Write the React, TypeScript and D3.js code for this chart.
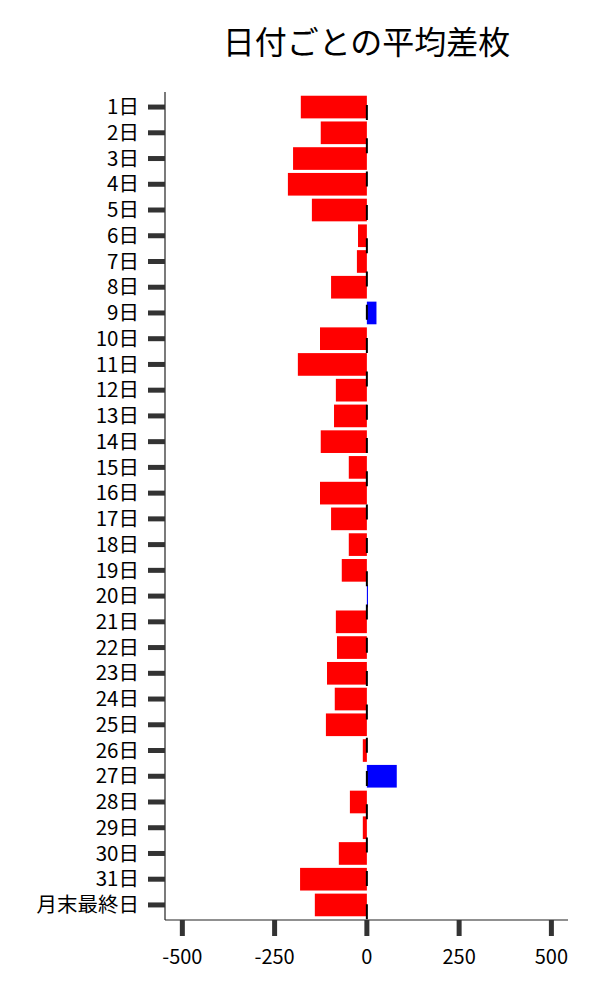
import React from 'react'
import * as d3 from 'd3'

// 日付ごとの平均差枚
const days = [
  '1日', '2日', '3日', '4日', '5日', '6日', '7日', '8日', '9日', '10日',
  '11日', '12日', '13日', '14日', '15日', '16日', '17日', '18日', '19日', '20日',
  '21日', '22日', '23日', '24日', '25日', '26日', '27日', '28日', '29日', '30日',
  '31日', '月末最終日',
]
const avgDiff = [
  -179, -125, -200, -214, -149, -24, -27, -97, 26, -127,
  -187, -84, -89, -125, -49, -127, -97, -49, -68, 3,
  -84, -81, -108, -87, -111, -11, 81, -46, -11, -76,
  -181, -141,
]
const xTicks = [-500, -250, 0, 250, 500]
const title = '日付ごとの平均差枚'

const W = 600
const H = 1000
const margin = { top: 92, right: 32, bottom: 80, left: 165 }
const font = '"Noto Sans CJK JP", "Noto Sans", sans-serif'

export default function App() {
  const x = d3.scaleLinear()
    .domain([-547, 545])
    .range([margin.left, W - margin.right])

  const y = d3.scaleBand<string>()
    .domain(days)
    .range([margin.top, H - margin.bottom])
    .paddingInner(0.12)
    .paddingOuter(0.145)

  const plotBottom = H - margin.bottom
  const half = y.bandwidth() / 2

  return (
    <div style={{ position: 'absolute', left: 0, top: 0 }}>
      <svg width={W} height={H} style={{ display: 'block', background: '#fff' }}>
        <text
          x={(margin.left + W - margin.right) / 2}
          y={54}
          textAnchor="middle"
          fontFamily={font}
          fontSize={32}
          fill="#000"
        >
          {title}
        </text>

        {/* bars */}
        {days.map((d, i) => {
          const v = avgDiff[i]
          return (
            <rect
              key={d}
              x={Math.min(x(0), x(v))}
              y={y(d)}
              width={Math.abs(x(v) - x(0))}
              height={y.bandwidth()}
              fill={v < 0 ? '#ff0000' : '#0000ff'}
            />
          )
        })}

        {/* zero reference line */}
        <line
          x1={x(0)}
          x2={x(0)}
          y1={margin.top}
          y2={plotBottom}
          stroke="#000"
          strokeWidth={2}
          strokeDasharray="15,18.3"
          strokeDashoffset={20.3}
        />

        {/* y axis */}
        <line x1={margin.left} x2={margin.left} y1={margin.top} y2={plotBottom} stroke="#222" strokeWidth={1.2} />
        {days.map(d => (
          <g key={d} transform={`translate(0,${y(d)! + half})`}>
            <line x1={margin.left - 17} x2={margin.left} stroke="#333" strokeWidth={5} />
            <text
              x={margin.left - 26}
              dy="0.35em"
              textAnchor="end"
              fontFamily={font}
              fontSize={20.5}
              fill="#000"
            >
              {d}
            </text>
          </g>
        ))}

        {/* x axis */}
        <line x1={margin.left} x2={W - margin.right} y1={plotBottom} y2={plotBottom} stroke="#222" strokeWidth={1.2} />
        {xTicks.map(t => (
          <g key={t} transform={`translate(${x(t)},0)`}>
            <line y1={plotBottom} y2={plotBottom + 16} stroke="#333" strokeWidth={5} />
            <text
              y={plotBottom + 37}
              dy="0.35em"
              textAnchor="middle"
              fontFamily={font}
              fontSize={20}
              fill="#000"
            >
              {t}
            </text>
          </g>
        ))}
      </svg>
    </div>
  )
}
